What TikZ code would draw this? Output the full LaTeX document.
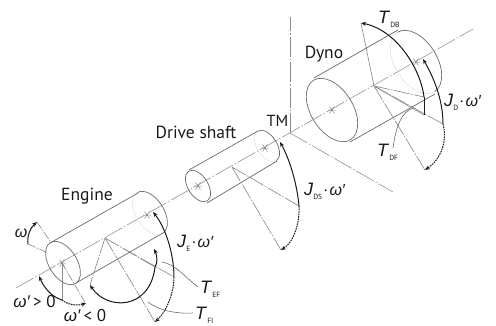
\documentclass[tikz,border=0pt]{standalone}
\usepackage{fontspec}
\setmainfont{PT Sans}
\newfontfamily\ital[ItalicFont=Liberation Sans Italic]{Liberation Sans}
\usetikzlibrary{arrows.meta}
\definecolor{gl}{gray}{0.55}
\definecolor{gb}{gray}{0.42}
\definecolor{ink}{gray}{0.1}
\tikzset{
 x=1pt,y=-1pt,
 body/.style={draw=gb,line width=0.7pt},
 faint/.style={draw=black!13,line width=0.5pt},
 axisline/.style={draw=gl,line width=0.55pt,dash pattern=on 20pt off 2pt on 1.5pt off 2pt},
 guide/.style={draw=gl,line width=0.65pt},
 gdash/.style={dash pattern=on 16pt off 1.5pt on 1.5pt off 1.5pt},
 moment/.style={draw=ink,line width=1pt,-{Stealth[length=5pt,width=4pt]}},
 plainmoment/.style={draw=ink,line width=1pt},
 dashmoment/.style={draw=ink,line width=1pt,dash pattern=on 1.6pt off 0.9pt,-{Stealth[length=5pt,width=4pt]}},
 leader/.style={draw=gb,line width=0.6pt},
 lab/.style={inner sep=0pt,text=ink,font=\fontsize{17.5}{17.5}\selectfont},
 sym/.style={inner sep=0pt,text=ink,font=\fontsize{16}{16}\selectfont},
 symb/.style={inner sep=0pt,text=ink,font=\fontsize{17}{17}\selectfont},
 starmark/.style={draw=gl,line width=0.5pt},
}
\newcommand{\cyl}[6]{% cx cy bx by a b
 \draw[body,shift={(#1,#2)},rotate=-58] (0,0) ellipse[x radius=#5,y radius=#6];
 \begin{scope}[shift={(#3,#4)},rotate=-58]
  \draw[body] (-#5,0) arc[start angle=180,end angle=360,x radius=#5,y radius=#6];
  \draw[faint] (#5,0) arc[start angle=0,end angle=180,x radius=#5,y radius=#6];
 \end{scope}
}
\newcommand{\starat}[2]{%
 \draw[starmark] (#1-4,#2)--(#1+4,#2) (#1-2.5,#2-3.5)--(#1+2.5,#2+3.5) (#1-2.5,#2+3.5)--(#1+2.5,#2-3.5);}
\newcommand{\tsym}[2]{{\fontsize{18}{18}\selectfont\ital\textit{#1}}\raisebox{-0.25em}{\fontsize{7.5}{7.5}\selectfont #2}}
\newcommand{\om}{{\ital\textit{ω}}}
\newcommand{\omp}{{\ital\textit{ω′}}}
\begin{document}
\begin{tikzpicture}
\useasboundingbox (0,0) rectangle (496,325);
% axes
\coordinate (axA) at (16,288); \coordinate (axB) at (473,29);
\coordinate (tm) at (290,133); \coordinate (tmU) at (290,17); \coordinate (tmD) at (393,192);
\draw[axisline] (axA)--(axB);
\draw[axisline] (tm)--(tmU);
\draw[axisline] (tm)--(tmD);
% Engine
\cyl{63}{263}{150}{213}{24}{14}
\draw[body] (50,243)--(138,193) (76,283)--(163,233);
\starat{62}{263}\starat{147}{215}
% Drive shaft
\cyl{198}{186}{267}{146}{17.5}{10}
\draw[body] (189,170)--(258,131) (207,203)--(277,161);
\starat{198}{186}\starat{265}{148}
% Dyno
\cyl{332}{110}{416}{62}{35}{21}
\draw[body] (314,78)--(398,30) (350,142)--(435,94);
\starat{332}{110}\starat{416}{62}
% Engine construction
\coordinate (ev) at (105,238);
\coordinate (e1) at (155,267);\coordinate (e2) at (174,277);\coordinate (e3) at (155,322);\coordinate (e4) at (90,285);
\coordinate (ec) at (62,263);\coordinate (e5) at (62,300);\coordinate (e6) at (86,304);
\draw[guide,gdash] (ev)--(e1) (ev)--(e4) (ev)--(e2) (ev)--(e3);
\draw[guide] (ec)--(e5);
\draw[guide,dash pattern=on 8pt off 1.5pt on 1.5pt off 1.5pt] (ec)--(e6);
\draw[guide,dash pattern=on 8pt off 1.5pt on 1.5pt off 1.5pt] (37,222)--(50,241) (28,244)--(48,253);
\draw[moment] (28,244) .. controls (27,236) and (30,228) .. (37,222);
\draw[moment] (62,300) .. controls (52,297) and (44,288) .. (39,276);
\draw[dashmoment] (62,300) .. controls (68,305) and (78,306) .. (86,303);
\draw[moment] (e1) .. controls (158,263) and (157,255) .. (154,249);
\draw[moment] (e1) .. controls (150,310) and (107,311) .. (e4);
\draw[moment] (e2) .. controls (174,255) and (166,228) .. (153,212);
\draw[dashmoment] (e2) .. controls (174,292) and (167,311) .. (e3);
\draw[leader] (162,262) .. controls (175,264) and (185,277) .. (198,287);
\draw[leader] (148,302) .. controls (158,310) and (175,314) .. (193,313);
% Drive construction
\coordinate (dv) at (232,167);\coordinate (d1) at (299,206);\coordinate (d2) at (281,250);
\draw[guide,gdash] (dv)--(d1) (dv)--(d2);
\draw[moment] (d1) .. controls (297,184) and (290,160) .. (280,142);
\draw[dashmoment] (d1) .. controls (300,222) and (294,242) .. (d2);
% Dyno construction
\coordinate (yv) at (374,86);\coordinate (y1) at (424,97);\coordinate (y2) at (424,115);
\coordinate (y3) at (443,124);\coordinate (y4) at (425,170);\coordinate (y5) at (361,23);
\draw[guide] (yv)--(y5) (yv)--(y2);
\draw[guide,gdash] (yv)--(y1) (yv)--(y3) (yv)--(y4);
\draw[moment] (y1) .. controls (421,70) and (397,30) .. (y5);
\draw[plainmoment] (y1)--(y2);
\draw[moment] (y3) .. controls (443,100) and (434,78) .. (423,59);
\draw[dashmoment] (y3) .. controls (448,142) and (440,160) .. (y4);
\draw[leader] (393,148) .. controls (396,125) and (402,112) .. (413,108);
% labels
\node[lab] (lEngine) at (87,196) {Engine};
\node[lab] (lDrive) at (196,132) {Drive shaft};
\node[lab,font=\fontsize{16}{16}\selectfont] (lTM) at (277.5,121) {TM};
\node[lab] (lDyno) at (324,54) {Dyno};
\node[sym] (lOm) at (21,233) {\om};
\node[symb] (lOmP) at (34.5,302) {\omp\,> 0};
\node[symb] (lOmN) at (85,316) {\omp\,< 0};
\node[sym,anchor=west] (lJE) at (177,243) {\tsym{J}{E}\kern1.5pt·\kern1.5pt\omp};
\node[sym,anchor=west] (lJDS) at (304,191) {\tsym{J}{DS}\kern1.5pt·\kern1.5pt\omp};
\node[sym,anchor=west] (lJD) at (444,102) {\tsym{J}{D}\kern1.5pt·\kern1.5pt\omp};
\node[sym,anchor=west] (lTEF) at (200,289) {\tsym{T}{EF}};
\node[sym,anchor=west] (lTFI) at (195,315.5) {\tsym{T}{FI}};
\node[sym,anchor=west] (lTDB) at (378,19) {\tsym{T}{DB}};
\node[sym,anchor=west] (lTDF) at (377,152) {\tsym{T}{DF}};
\end{tikzpicture}
\end{document}
